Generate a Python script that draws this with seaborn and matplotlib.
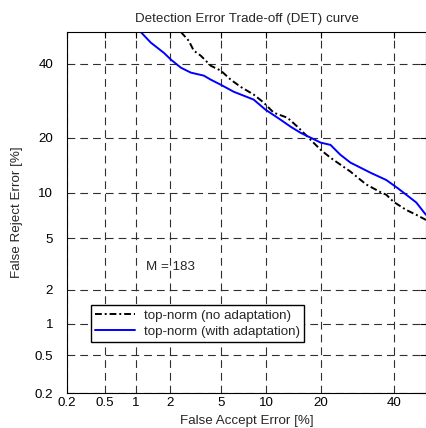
import math
import numpy as np
import pandas as pd
import matplotlib
matplotlib.use("Agg")
import matplotlib.pyplot as plt
from matplotlib import font_manager as fm
import seaborn as sns

# ---- data (percent) ----
far_no = [2.47, 2.86, 3.13, 3.55, 4.22, 5.0, 5.87, 6.86, 8.35, 9.65, 11.1, 13.35,
          15.15, 17.1, 19.9, 22.2, 27.2, 31.6, 35.7, 37.5, 39.7, 43.7, 46.9, 50.0]
frr_no = [50.0, 47.2, 44.1, 42.5, 39.4, 37.9, 35.2, 33.1, 30.9, 28.7, 26.0, 24.7,
          22.5, 20.2, 17.4, 15.8, 13.3, 11.2, 10.1, 9.73, 8.8, 7.8, 7.25, 6.7]
far_ad = [1.11, 1.37, 1.78, 2.04, 2.47, 2.97, 3.74, 4.22, 5.0, 6.15, 8.35, 9.9,
          12.2, 13.9, 15.7, 17.7, 19.9, 22.2, 24.6, 27.2, 32.8, 37.5, 40.9, 43.7,
          46.9, 49.4, 50.0]
frr_ad = [50.0, 46.6, 43.4, 41.3, 38.8, 37.3, 36.4, 35.2, 33.7, 31.7, 29.5, 26.8,
          24.2, 22.5, 21.1, 20.0, 18.9, 18.4, 16.4, 14.9, 13.1, 11.9, 10.7, 9.73,
          8.7, 7.5, 7.25]
tick_vals = [0.2, 0.5, 1, 2, 5, 10, 20, 40]
tick_labels = ["0.2", "0.5", "1", "2", "5", "10", "20", "40"]
series_names = ["top-norm (no adaptation)", "top-norm (with adaptation)"]


def _ppf(p):
    p = np.atleast_1d(np.asarray(p, dtype=float))
    shape = p.shape
    p = np.clip(p.ravel(), 1e-12, 1 - 1e-12)
    a = [-3.969683028665376e+01, 2.209460984245205e+02, -2.759285104469687e+02,
         1.383577518672690e+02, -3.066479806614716e+01, 2.506628277459239e+00]
    b = [-5.447609879822406e+01, 1.615858368580409e+02, -1.556989798598866e+02,
         6.680131188771972e+01, -1.328068155288572e+01]
    c = [-7.784894002430293e-03, -3.223964580411365e-01, -2.400758277161838e+00,
         -2.549671010115819e+00, 4.374664141464968e+00, 2.938163982698783e+00]
    d = [7.784695709041462e-03, 3.224671290700398e-01, 2.445134137142996e+00,
         3.754408661907416e+00]
    plow = 0.02425
    x = np.empty_like(p)
    lo = p < plow
    hi = p > 1 - plow
    mid = ~(lo | hi)
    q = np.sqrt(-2 * np.log(p[lo]))
    x[lo] = (((((c[0]*q+c[1])*q+c[2])*q+c[3])*q+c[4])*q+c[5]) / ((((d[0]*q+d[1])*q+d[2])*q+d[3])*q+1)
    q = p[mid] - 0.5
    r = q * q
    x[mid] = (((((a[0]*r+a[1])*r+a[2])*r+a[3])*r+a[4])*r+a[5])*q / (((((b[0]*r+b[1])*r+b[2])*r+b[3])*r+b[4])*r+1)
    q = np.sqrt(-2 * np.log(1 - p[hi]))
    x[hi] = -(((((c[0]*q+c[1])*q+c[2])*q+c[3])*q+c[4])*q+c[5]) / ((((d[0]*q+d[1])*q+d[2])*q+d[3])*q+1)
    return x.reshape(shape)


_erf = np.vectorize(math.erf)


def _cdf(z):
    z = np.atleast_1d(np.asarray(z, dtype=float))
    return 0.5 * (1 + _erf(z / math.sqrt(2)))


fwd = lambda v: _ppf(np.asarray(v, dtype=float) / 100.0)
inv = lambda z: 100.0 * _cdf(z)

sns.set_theme(style="white")

# pick the regular (non-narrow) Liberation Sans file explicitly
_font_name = 'Liberation Sans'
for f in fm.fontManager.ttflist:
    if 'liberationsans' in f.fname.lower().replace('-', '').replace('_', '') \
            and 'narrow' not in f.fname.lower() and 'bold' not in f.fname.lower() \
            and 'italic' not in f.fname.lower():
        _font_name = f.name
        break
plt.rcParams['font.family'] = [_font_name, 'DejaVu Sans']
FS = 9.6
plt.rcParams['font.size'] = FS

fig = plt.figure(figsize=(4.26, 4.28), dpi=100)
ax = fig.add_axes([67/426, 1 - 393/428, (426 - 67)/426, (393 - 32)/428])

df_no = pd.DataFrame({"far": far_no, "frr": frr_no})
df_ad = pd.DataFrame({"far": far_ad, "frr": frr_ad})

ax.set_xscale('function', functions=(fwd, inv))
ax.set_yscale('function', functions=(fwd, inv))

sns.lineplot(data=df_no, x="far", y="frr", sort=False, estimator=None, ax=ax,
             color="black", lw=1.4, linestyle=(0, (3.5, 1.5, 1, 1.5)),
             label=series_names[0])
sns.lineplot(data=df_ad, x="far", y="frr", sort=False, estimator=None, ax=ax,
             color="#0000ff", lw=1.4, linestyle="-", label=series_names[1])

ax.set_xlim(0.2, 50)
ax.set_ylim(0.2, 50)
ax.set_xticks(tick_vals)
ax.set_xticklabels(tick_labels)
ax.set_yticks(tick_vals)
ax.set_yticklabels(tick_labels)
ax.minorticks_off()

ax.set_axisbelow(True)
ax.grid(True, which='major', linestyle=(0, (7, 4.5)), color='#303030', lw=0.8)

ax.tick_params(axis='both', which='major', direction='in', length=4, width=0.8,
               colors='black', labelsize=FS, top=True, right=True)
ax.tick_params(axis='x', pad=3)
ax.tick_params(axis='y', pad=10)
for s in ax.spines.values():
    s.set_visible(True)
    s.set_color('black')
    s.set_linewidth(0.8)

ax.set_xlabel("False Accept Error [%]", fontsize=FS, labelpad=4)
ax.set_ylabel("False Reject Error [%]", fontsize=FS, labelpad=8)
ax.set_title("Detection Error Trade-off (DET) curve", fontsize=FS, pad=7)

ax.text(1.24, 3.07, "M = 183", ha='left', va='center', fontsize=FS)

if ax.get_legend() is not None:
    ax.get_legend().remove()
handles, labels = ax.get_legend_handles_labels()
leg = fig.legend(handles, labels, loc='lower left',
                 bbox_to_anchor=(91/426, 1 - 342/428), bbox_transform=fig.transFigure,
                 borderaxespad=0, frameon=True, fancybox=False, edgecolor='black',
                 framealpha=1, fontsize=FS, handlelength=3.0, handletextpad=0.7,
                 borderpad=0.3, labelspacing=0.3)
leg.get_frame().set_linewidth(1.0)

fig.savefig("out.png", dpi=100)
